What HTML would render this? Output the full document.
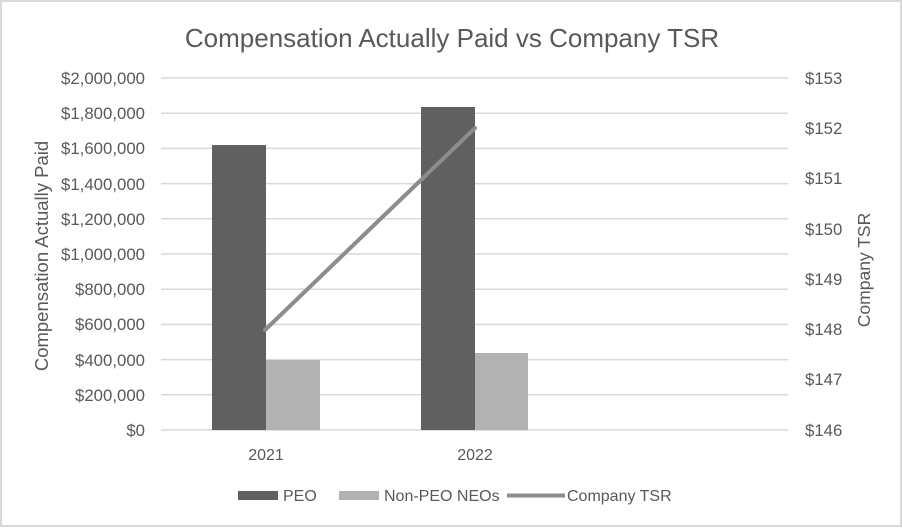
<!DOCTYPE html>
<html><head><style>
body{margin:0;background:#fff}
svg text{font-family:"Liberation Sans",sans-serif;fill:#595959}
</style></head><body>
<svg width="902" height="527" xmlns="http://www.w3.org/2000/svg">
<rect x="1" y="1" width="900" height="525" fill="#fff" stroke="#d9d9d9" stroke-width="2"/>
<text x="452" y="47" font-size="26" text-anchor="middle">Compensation Actually Paid vs Company TSR</text>
<g stroke="#d9d9d9" stroke-width="1.5">
<line x1="161" x2="788" y1="78" y2="78"/><line x1="161" x2="788" y1="113.2" y2="113.2"/>
<line x1="161" x2="788" y1="148.4" y2="148.4"/><line x1="161" x2="788" y1="183.6" y2="183.6"/>
<line x1="161" x2="788" y1="218.8" y2="218.8"/><line x1="161" x2="788" y1="254" y2="254"/>
<line x1="161" x2="788" y1="289.2" y2="289.2"/><line x1="161" x2="788" y1="324.4" y2="324.4"/>
<line x1="161" x2="788" y1="359.6" y2="359.6"/><line x1="161" x2="788" y1="394.8" y2="394.8"/>
<line x1="161" x2="788" y1="430" y2="430"/>
</g>
<rect x="212" y="145" width="54" height="285" fill="#606060"/>
<rect x="266" y="360" width="54" height="70" fill="#b2b2b2"/>
<rect x="421" y="107" width="54" height="323" fill="#606060"/>
<rect x="475" y="353" width="53" height="77" fill="#b2b2b2"/>
<line x1="265" y1="330" x2="475" y2="128" stroke="#8c8c8c" stroke-width="4" stroke-linecap="round"/>
<g font-size="16.8" text-anchor="end">
<text x="145" y="84">$2,000,000</text><text x="145" y="119">$1,800,000</text>
<text x="145" y="154">$1,600,000</text><text x="145" y="190">$1,400,000</text>
<text x="145" y="225">$1,200,000</text><text x="145" y="260">$1,000,000</text>
<text x="145" y="295">$800,000</text><text x="145" y="330">$600,000</text>
<text x="145" y="366">$400,000</text><text x="145" y="401">$200,000</text>
<text x="145" y="436">$0</text>
</g>
<g font-size="16.8">
<text x="805" y="84">$153</text><text x="805" y="134">$152</text>
<text x="805" y="184">$151</text><text x="805" y="235">$150</text>
<text x="805" y="285">$149</text><text x="805" y="335">$148</text>
<text x="805" y="385">$147</text><text x="805" y="436">$146</text>
</g>
<text font-size="18.5" text-anchor="middle" transform="translate(48,256) rotate(-90)">Compensation Actually Paid</text>
<text font-size="17.5" text-anchor="middle" transform="translate(870,270) rotate(-90)">Company TSR</text>
<text x="266" y="460" font-size="16" text-anchor="middle">2021</text>
<text x="475" y="460" font-size="16" text-anchor="middle">2022</text>
<rect x="238" y="491" width="40" height="9" fill="#606060"/>
<text x="283" y="501" font-size="16">PEO</text>
<rect x="339" y="491" width="40" height="9" fill="#b2b2b2"/>
<text x="384" y="501" font-size="16">Non-PEO NEOs</text>
<line x1="507" y1="495.5" x2="565" y2="495.5" stroke="#8c8c8c" stroke-width="4"/>
<text x="567" y="501" font-size="16">Company TSR</text>
</svg>
</body></html>
